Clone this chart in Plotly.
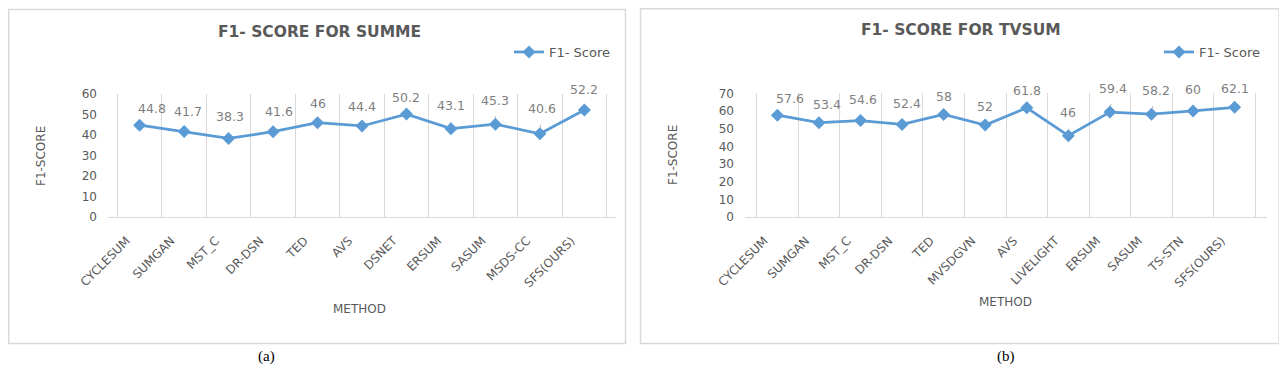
import plotly.graph_objects as go

# page body has an 8px margin; figure sized to fill the rest of the window
PAGE_OFF = 8
W, H = 1287 - PAGE_OFF, 367 - PAGE_OFF

# ---------------- data ----------------
summe_methods = ["CYCLESUM", "SUMGAN", "MST_C", "DR-DSN", "TED", "AVS", "DSNET",
                 "ERSUM", "SASUM", "MSDS-CC", "SFS(OURS)"]
summe_f1 = [44.8, 41.7, 38.3, 41.6, 46, 44.4, 50.2, 43.1, 45.3, 40.6, 52.2]

tvsum_methods = ["CYCLESUM", "SUMGAN", "MST_C", "DR-DSN", "TED", "MVSDGVN", "AVS",
                 "LIVELIGHT", "ERSUM", "SASUM", "TS-STN", "SFS(OURS)"]
tvsum_f1 = [57.6, 53.4, 54.6, 52.4, 58, 52, 61.8, 46, 59.4, 58.2, 60, 62.1]

series_name = "F1- Score"
title_a = "F1- SCORE FOR SUMME"
title_b = "F1- SCORE FOR TVSUM"

# ---------------- style ----------------
BLUE = "#5b9bd5"
GRID = "#d9d9d9"
TXT = "#595959"
LBL = "#7f7f7f"
FONT = "DejaVu Sans"

# label offsets (pixels) from point, per panel
off_a = [(12, -17), (4, -20), (1, -22), (6, -20), (0, -19), (0, -19), (0, -17),
         (0, -23), (0, -24), (2, -25), (0, -20)]
off_b = [(13, -17), (8, -18), (2, -21), (5, -21), (0, -18), (0, -19), (0, -17),
         (0, -23), (3, -24), (4, -24), (0, -21), (0, -19)]


def px_x(p):
    return (p - PAGE_OFF) / W


def px_y(p):
    return (H - (p - PAGE_OFF)) / H


fig = go.Figure()

fig.add_trace(go.Scatter(
    x=summe_methods, y=summe_f1, name=series_name, mode="lines+markers",
    line=dict(color=BLUE, width=2.75),
    marker=dict(symbol="diamond", size=10, color=BLUE),
    xaxis="x", yaxis="y", legend="legend"))

fig.add_trace(go.Scatter(
    x=tvsum_methods, y=tvsum_f1, name=series_name, mode="lines+markers",
    line=dict(color=BLUE, width=2.75),
    marker=dict(symbol="diamond", size=10, color=BLUE),
    xaxis="x2", yaxis="y2", legend="legend2"))

annotations = []
for xs, ys, offs, xr, yr in [(summe_methods, summe_f1, off_a, "x", "y"),
                             (tvsum_methods, tvsum_f1, off_b, "x2", "y2")]:
    for c, v, (dx, dy) in zip(xs, ys, offs):
        annotations.append(dict(
            x=c, y=v, xref=xr, yref=yr, text=f"{v:g}",
            showarrow=True, ax=dx, ay=dy, arrowhead=0, arrowwidth=0.8,
            arrowcolor="#a6a6a6", standoff=6, startstandoff=7,
            font=dict(family=FONT, size=12.5, color=LBL)))


def paper_text(txt, xc, yc, size, color=TXT, family=FONT, angle=0):
    return dict(x=px_x(xc), y=px_y(yc), xref="paper", yref="paper",
                xanchor="center", yanchor="middle", text=txt, textangle=angle,
                showarrow=False, font=dict(family=family, size=size, color=color))


annotations += [
    paper_text(f"<b>{title_a}</b>", 319, 32, 15.5),
    paper_text(f"<b>{title_b}</b>", 961, 30, 15.5),
    paper_text("F1-SCORE", 41, 156, 12, angle=-90),
    paper_text("F1-SCORE", 673, 155, 12, angle=-90),
    paper_text("METHOD", 359, 309, 12),
    paper_text("METHOD", 1006, 302, 12),
    paper_text("(a)", 266, 356, 15, color="black", family="Liberation Serif"),
    paper_text("(b)", 1006, 356, 15, color="black", family="Liberation Serif"),
]

shapes = [
    dict(type="rect", xref="paper", yref="paper", x0=px_x(8.75), x1=px_x(625.5),
         y0=px_y(343.5), y1=px_y(9.5), line=dict(color=GRID, width=1.5)),
    dict(type="rect", xref="paper", yref="paper", x0=px_x(640.5), x1=px_x(1279),
         y0=px_y(343.5), y1=px_y(8.75), line=dict(color=GRID, width=1.5)),
]

xaxis_common = dict(type="category", tickson="boundaries", showgrid=True,
                    gridcolor=GRID, gridwidth=1, showline=True, linecolor=GRID,
                    linewidth=1, ticks="", tickangle=-45, zeroline=False,
                    automargin=False, ticklabelstandoff=11, ticklabelshift=-13,
                    tickfont=dict(family=FONT, size=12, color=TXT))
yaxis_common = dict(showgrid=False, zeroline=False, showline=False, ticks="",
                    ticklabelstandoff=10, automargin=False,
                    tickfont=dict(family=FONT, size=12, color=TXT))

fig.update_layout(
    width=W, height=H, margin=dict(l=0, r=0, t=0, b=0, autoexpand=False),
    paper_bgcolor="white", plot_bgcolor="white", showlegend=True,
    xaxis=dict(domain=[px_x(108), px_x(616)], anchor="y", **xaxis_common),
    yaxis=dict(domain=[px_y(217), px_y(94)], anchor="x", range=[0, 60],
               dtick=10, **yaxis_common),
    xaxis2=dict(domain=[px_x(745), px_x(1267)], anchor="y2", **xaxis_common),
    yaxis2=dict(domain=[px_y(217), px_y(93.3)], anchor="x2", range=[0, 70],
                dtick=10, **yaxis_common),
    legend=dict(x=px_x(509), y=px_y(52), xanchor="left", yanchor="middle",
                bgcolor="rgba(0,0,0,0)", font=dict(family=FONT, size=13, color=TXT)),
    legend2=dict(x=px_x(1159), y=px_y(52), xanchor="left", yanchor="middle",
                 bgcolor="rgba(0,0,0,0)", font=dict(family=FONT, size=13, color=TXT)),
    annotations=annotations, shapes=shapes,
)

fig.write_html("out.html")
